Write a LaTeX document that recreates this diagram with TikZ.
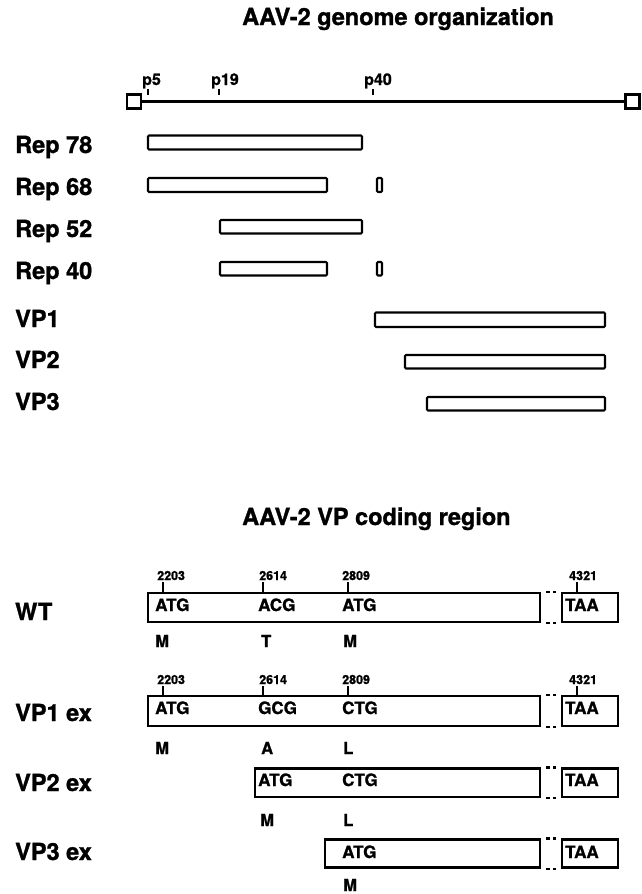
\documentclass[tikz,border=0pt]{standalone}
\usepackage{fontspec}
\setmainfont{TeX Gyre Heros}[BoldFeatures={FakeBold=1.2}]
\usetikzlibrary{fit}
\tikzset{
  lab/.style={font=\fontsize{23.5}{24}\selectfont\bfseries, anchor=base west, inner sep=0pt},
  plab/.style={font=\fontsize{16}{16}\selectfont\bfseries, anchor=base west, inner sep=0pt},
  num/.style={font=\fontsize{12.5}{13}\selectfont\bfseries, anchor=base west, inner sep=0pt},
  cod/.style={font=\fontsize{17}{17}\selectfont\bfseries, anchor=base west, inner sep=0pt},
  aa/.style={font=\fontsize{16.5}{17}\selectfont\bfseries, anchor=base west, inner sep=0pt},
  bar/.style={draw, line width=2.1pt, rounded corners=1pt, inner sep=0pt},
  cbox/.style={draw, line width=2.1pt, inner sep=0pt},
  dcon/.style={line width=2.1pt, dash pattern=on 0pt off 5pt on 4pt off 3pt on 2.5pt off 20pt},
  tickline/.style={line width=2pt},
  gline/.style={line width=2.2pt},
}
\begin{document}
\begin{tikzpicture}[x=1pt,y=-1pt]
\useasboundingbox (0,0) rectangle (641,894);
% ---------- Titles
\node[lab] (t1) at (242,25) {AAV-2 genome organization};
\node[lab] (t2) at (242,525) {AAV-2 VP coding region};
% ---------- Genome line
\node[cbox, fit={(127,94.5) (141,108.5)}] (gl) {};
\node[cbox, fit={(625.5,94.5) (639.5,108.5)}] (gr) {};
\draw[gline] (gl) -- (gr);
\node[plab] (p5) at (142,85) {p5};
\node[plab] (p19) at (211,85) {p19};
\node[plab] (p40) at (364,85) {p40};
\draw[tickline] ([xshift=6pt,yshift=-4pt]p5.base west) -- ++(0,6);
\draw[tickline] ([xshift=8pt,yshift=-4pt]p19.base west) -- ++(0,6);
\draw[tickline] ([xshift=9pt,yshift=-4pt]p40.base west) -- ++(0,6);
% ---------- Rep / VP labels
\node[lab] (lr78) at (15,153) {Rep 78};
\node[lab] (lr68) at (15,195) {Rep 68};
\node[lab] (lr52) at (15,237) {Rep 52};
\node[lab] (lr40) at (15,279) {Rep 40};
\node[lab] (lvp1) at (15,327) {VP1};
\node[lab] (lvp2) at (15,368) {VP2};
\node[lab] (lvp3) at (15,410) {VP3};
% ---------- bars
\node[bar, fit={(148,135.5) (362,149.5)}] (r78) {};
\node[bar, fit={(148,178) (327,192)}] (r68) {};
\node[bar, fit={(377,178) (382,192)}] (r68b) {};
\node[bar, fit={(220,220) (362,233.5)}] (r52) {};
\node[bar, fit={(220,262) (327,275.5)}] (r40) {};
\node[bar, fit={(377,262) (382,275.5)}] (r40b) {};
\node[bar, fit={(375,312.5) (605,327)}] (vp1) {};
\node[bar, fit={(405,355) (605,368.5)}] (vp2) {};
\node[bar, fit={(427,397) (605,410.5)}] (vp3) {};
% ---------- WT
\node[lab] (lwt) at (15,620) {WT};
\node[cbox, fit={(148,593) (540,622)}] (wt) {};
\node[cbox, fit={(562,593) (618,622)}] (wtT) {};
\draw[dcon] (wt.north east) -- (wtT.north west);
\draw[dcon] (wt.south east) -- (wtT.south west);
\node[num] (wn1) at (157,580) {2203};
\node[num] (wn2) at (259,580) {2614};
\node[num] (wn3) at (342,580) {2809};
\node[num] (wn4) at (569,580) {4321};
\draw[tickline] ([xshift=6pt,yshift=-2pt]wn1.base west) -- ([xshift=6pt]wn1.base west |- wt.north);
\draw[tickline] ([xshift=4pt,yshift=-2pt]wn2.base west) -- ([xshift=4pt]wn2.base west |- wt.north);
\draw[tickline] ([xshift=6pt,yshift=-2pt]wn3.base west) -- ([xshift=6pt]wn3.base west |- wt.north);
\draw[tickline] ([xshift=8pt,yshift=-2pt]wn4.base west) -- ([xshift=8pt]wn4.base west |- wtT.north);
\node[cod] (wc1) at (155,611) {ATG};
\node[cod] (wc2) at (258,611) {ACG};
\node[cod] (wc3) at (342,611) {ATG};
\node[cod] (wc4) at (565,611) {TAA};
\node[aa] (wa1) at (155,647) {M};
\node[aa] (wa2) at (261,647) {T};
\node[aa] (wa3) at (343,647) {M};
% ---------- VP1 ex
\node[lab] (lv1) at (15,721) {VP1 ex};
\node[cbox, fit={(148,696) (540,726)}] (v1) {};
\node[cbox, fit={(562,696) (618,726)}] (v1T) {};
\draw[dcon] (v1.north east) -- (v1T.north west);
\draw[dcon] (v1.south east) -- (v1T.south west);
\node[num] (vn1) at (157,684) {2203};
\node[num] (vn2) at (259,684) {2614};
\node[num] (vn3) at (342,684) {2809};
\node[num] (vn4) at (569,684) {4321};
\draw[tickline] ([xshift=6pt,yshift=-2pt]vn1.base west) -- ([xshift=6pt]vn1.base west |- v1.north);
\draw[tickline] ([xshift=4pt,yshift=-2pt]vn2.base west) -- ([xshift=4pt]vn2.base west |- v1.north);
\draw[tickline] ([xshift=6pt,yshift=-2pt]vn3.base west) -- ([xshift=6pt]vn3.base west |- v1.north);
\draw[tickline] ([xshift=8pt,yshift=-2pt]vn4.base west) -- ([xshift=8pt]vn4.base west |- v1T.north);
\node[cod] (vc1) at (155,714) {ATG};
\node[cod] (vc2) at (258,714) {GCG};
\node[cod] (vc3) at (342,714) {CTG};
\node[cod] (vc4) at (565,714) {TAA};
\node[aa] (va1) at (155,754) {M};
\node[aa] (va2) at (261,754) {A};
\node[aa] (va3) at (343,754) {L};
% ---------- VP2 ex
\node[lab] (lv2) at (15,791) {VP2 ex};
\node[cbox, fit={(255,768.5) (540,797)}] (v2) {};
\node[cbox, fit={(562,768.5) (618,797)}] (v2T) {};
\draw[dcon] (v2.north east) -- (v2T.north west);
\draw[dcon] (v2.south east) -- (v2T.south west);
\node[cod] (uc1) at (258,786) {ATG};
\node[cod] (uc2) at (342,786) {CTG};
\node[cod] (uc4) at (565,786) {TAA};
\node[aa] (ua1) at (260,826) {M};
\node[aa] (ua2) at (343,826) {L};
% ---------- VP3 ex
\node[lab] (lv3) at (15,860) {VP3 ex};
\node[cbox, fit={(325,839.5) (540,867.5)}] (v3) {};
\node[cbox, fit={(562,839.5) (618,867.5)}] (v3T) {};
\draw[dcon] (v3.north east) -- (v3T.north west);
\draw[dcon] (v3.south east) -- (v3T.south west);
\node[cod] (sc1) at (342,858) {ATG};
\node[cod] (sc4) at (565,858) {TAA};
\node[aa] (sa1) at (343,891) {M};
\end{tikzpicture}
\end{document}
